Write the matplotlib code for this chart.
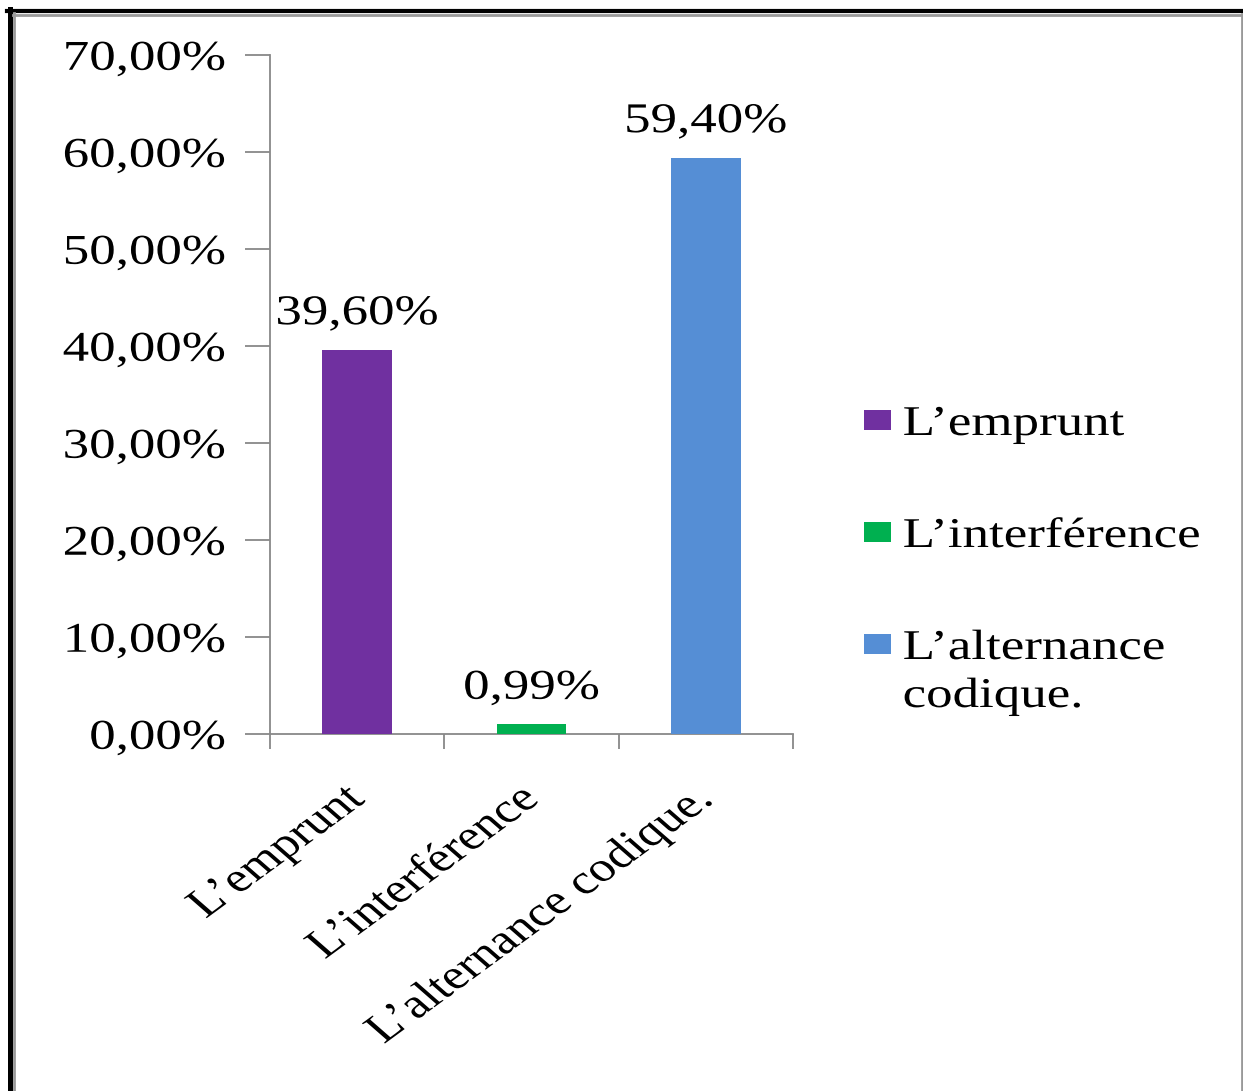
import matplotlib
matplotlib.use("Agg")
import matplotlib.pyplot as plt
from matplotlib.patches import Rectangle
from matplotlib.lines import Line2D
from matplotlib.ticker import FuncFormatter, MultipleLocator
from matplotlib.patheffects import AbstractPathEffect
from matplotlib.transforms import Affine2D

categories = ["L\u2019emprunt", "L\u2019interférence", "L\u2019alternance codique."]
legend_labels = ["L\u2019emprunt", "L\u2019interférence", "L\u2019alternance\ncodique."]
values = [39.60, 0.99, 59.40]
value_labels = ["39,60%", "0,99%", "59,40%"]
colors = ["#7030A0", "#00B050", "#558ED5"]

W, H = 1243, 1091
SX = 1.25  # horizontal stretch of the original picture's text
FS = 30.5


class HStretch(AbstractPathEffect):
    """Stretch glyphs horizontally (in display space) around an anchor."""

    def __init__(self, sx, fx=0.5, fy=None, ox=0.0, oy=0.0):
        super().__init__()
        self.sx, self.fx, self.fy, self.ox, self.oy = sx, fx, fy, ox, oy

    def draw_path(self, renderer, gc, tpath, affine, rgbFace=None):
        ext = tpath.get_extents()
        px = ext.x0 + self.fx * ext.width
        py = 0.0 if self.fy is None else ext.y0 + self.fy * ext.height
        dx, dy = affine.transform((px, py))
        t = (affine + Affine2D().translate(-dx, 0).scale(self.sx, 1)
             .translate(dx + self.ox, self.oy))
        renderer.draw_path(gc, tpath, t, rgbFace)


plt.rcParams['font.family'] = ['Liberation Serif', 'DejaVu Serif']
fig = plt.figure(figsize=(W / 100, H / 100), dpi=100)


def fx(px):
    return px / W


def fy(py):
    return 1 - py / H


ax = fig.add_axes([fx(270), fy(734), fx(793) - fx(270), fy(55) - fy(734)])
x = list(range(len(categories)))
ax.bar(x, values, width=0.40, color=colors, zorder=3)
ax.set_xlim(-0.5, 2.5)
ax.set_ylim(0, 70)
ax.yaxis.set_major_locator(MultipleLocator(10))
ax.yaxis.set_major_formatter(FuncFormatter(lambda v, p: f"{v:.2f}%".replace(".", ",")))
ax.set_xticks([-0.5, 0.5, 1.5, 2.5])
ax.set_xticklabels([])
ax.set_xticks(x, minor=True)
ax.set_xticklabels(categories, minor=True, rotation=42.5, ha='right', va='baseline',
                   rotation_mode='anchor', fontsize=30)
ax.tick_params(axis='x', which='minor', length=0, pad=47)
ax.tick_params(axis='x', which='major', length=11, color='#888888', width=1.3, direction='out')
ax.tick_params(axis='y', length=18, color='#888888', width=1.3, labelsize=FS, pad=14)
for s in ['top', 'right']:
    ax.spines[s].set_visible(False)
for s in ['left', 'bottom']:
    ax.spines[s].set_color('#888888')
    ax.spines[s].set_linewidth(1.3)

for lbl in ax.get_yticklabels():
    lbl.set_path_effects([HStretch(SX, fx=1.0)])
for lbl in ax.get_xticklabels(minor=True):
    lbl.set_path_effects([HStretch(SX, fx=1.0, ox=9, oy=-2)])

for xi, v, lab in zip(x, values, value_labels):
    t = ax.annotate(lab, (xi, v), xytext=(0, 12), textcoords='offset points',
                    ha='center', va='bottom', fontsize=FS)
    t.set_path_effects([HStretch(SX, fx=0.5)])

# legend (drawn manually to keep the handle on the first line of a label)
tf = fig.transFigure
entry_step = 112   # px between entries
line_step = 48     # px between lines inside an entry
base0 = 435        # baseline of first entry, px from top
for i, (c, lab) in enumerate(zip(colors, legend_labels)):
    b = base0 + i * entry_step
    fig.add_artist(Rectangle((fx(864), fy(b - 5)), fx(27), 20 / H, facecolor=c,
                             edgecolor='none', transform=tf))
    for j, line in enumerate(lab.split("\n")):
        t = fig.text(fx(903), fy(b + j * line_step), line, ha='left', va='baseline',
                     fontsize=FS)
        t.set_path_effects([HStretch(SX, fx=0.0)])

# frame border
fig.add_artist(Line2D([fx(9.5), fx(9.5)], [fy(9), 0], color='black', linewidth=3.6, transform=tf))
fig.add_artist(Line2D([fx(7), 1], [fy(11), fy(11)], color='black', linewidth=3.0, transform=tf))
fig.add_artist(Line2D([fx(14), fx(14)], [fy(13), 0], color='#999999', linewidth=2.0, transform=tf))
fig.add_artist(Line2D([fx(13), fx(1241.5)], [fy(14.5), fy(14.5)], color='#999999', linewidth=2.0, transform=tf))
fig.add_artist(Line2D([fx(1241.5), fx(1241.5)], [fy(13.5), 0], color='#999999', linewidth=2.0, transform=tf))

fig.savefig("out.png", dpi=100)
